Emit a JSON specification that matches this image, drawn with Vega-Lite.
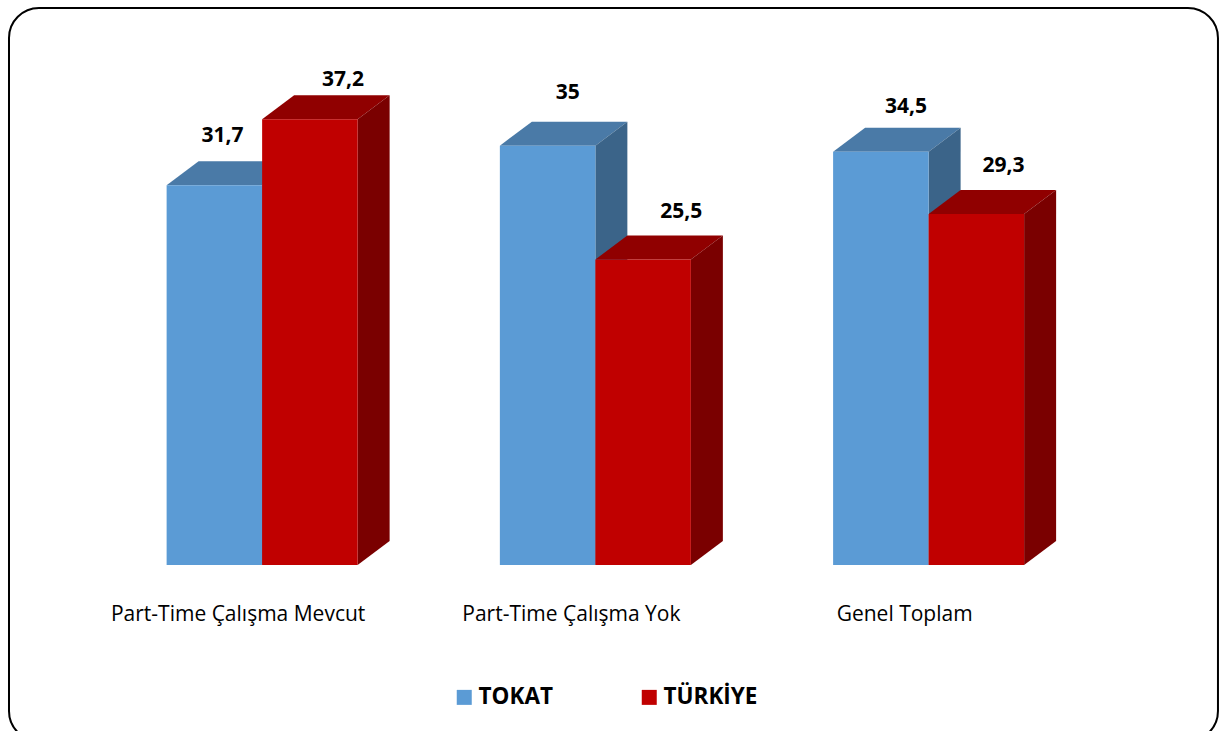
{
"$schema":"https://vega.github.io/schema/vega-lite/v6.json",
"width":1219,"height":731,"padding":0,
"autosize":{"type":"fit","contains":"padding"},
"background":"white",
"config":{"view":{"stroke":null},"font":"Open Sans"},
"data":{"values":[
{"category":"Part-Time Çalışma Mevcut","series":"TOKAT","value":31.7},
{"category":"Part-Time Çalışma Yok","series":"TOKAT","value":35},
{"category":"Genel Toplam","series":"TOKAT","value":34.5},
{"category":"Part-Time Çalışma Mevcut","series":"TÜRKİYE","value":37.2},
{"category":"Part-Time Çalışma Yok","series":"TÜRKİYE","value":25.5},
{"category":"Genel Toplam","series":"TÜRKİYE","value":29.3}
]},
"transform":[
{"calculate":"indexof(['Part-Time Çalışma Mevcut','Part-Time Çalışma Yok','Genel Toplam'],datum.category)","as":"i"},
{"calculate":"datum.series==='TOKAT'?0:1","as":"s"},
{"calculate":"datum.i+datum.s*0.2866","as":"x0"},
{"calculate":"datum.x0+0.2866","as":"x1"}
],
"resolve":{"scale":{"color":"independent"}},
"layer":[
{"mark":{"type":"rect","filled":false,"stroke":"black","strokeWidth":2,"cornerRadius":30,"clip":true},
 "data":{"values":[{"frame":"border"}]},
 "transform":[{"calculate":"-0.473","as":"a"},{"calculate":"3.1549","as":"b"},{"calculate":"46.49","as":"c"},{"calculate":"-14.7","as":"d"}],
 "encoding":{
  "x":{"field":"a","type":"quantitative","scale":{"domain":[-0.5,3.158],"nice":false,"zero":false},"axis":null},
  "x2":{"field":"b"},
  "y":{"field":"c","type":"quantitative","scale":{"domain":[-13.86,47.16],"nice":false,"zero":false},"axis":null},
  "y2":{"field":"d"}}},
{"mark":{"type":"area","clip":false,"interpolate":"linear"},
 "transform":[
  {"calculate":"[0,1,2,3,4,5]","as":"v"},{"flatten":["v"]},
  {"calculate":"datum.v<4?'top':'side'","as":"face"},
  {"calculate":"datum.x0+0.096","as":"x0d"},
  {"calculate":"datum.x1+0.096","as":"x1d"},
  {"calculate":"[datum.x0,datum.x0d,datum.x1,datum.x1d,datum.x1,datum.x1d][datum.v]","as":"px"},
  {"calculate":"[datum.value,datum.value+2,datum.value+2,datum.value+2,datum.value,datum.value+2][datum.v]","as":"py"},
  {"calculate":"[datum.value,datum.value,datum.value,datum.value+2,0,2][datum.v]","as":"py2"}
 ],
 "encoding":{
  "x":{"field":"px","type":"quantitative","axis":null},
  "y":{"field":"py","type":"quantitative","stack":null,"axis":null},
  "y2":{"field":"py2"},
  "detail":[{"field":"series"},{"field":"category"},{"field":"face"}],
  "color":{"condition":[
    {"test":"datum.series==='TOKAT'&&datum.face==='top'","value":"#4a7aa7"},
    {"test":"datum.series==='TOKAT'","value":"#3b6489"},
    {"test":"datum.face==='top'","value":"#900000"}],
   "value":"#7a0000"}}},
{"mark":{"type":"rect"},
 "encoding":{
  "x":{"field":"x0","type":"quantitative","axis":null},
  "x2":{"field":"x1"},
  "y":{"field":"value","type":"quantitative","axis":null},
  "y2":{"datum":0},
  "color":{"field":"series","type":"nominal",
   "scale":{"domain":["TOKAT","TÜRKİYE"],"range":["#5b9bd5","#c00000"]},
   "legend":{"orient":"none","legendX":453,"legendY":686,"direction":"horizontal","title":null,"padding":0,
    "symbolType":"square","symbolSize":225,"symbolStrokeWidth":0,"labelFont":"Open Sans","labelFontSize":22.5,"labelFontWeight":"bold","labelColor":"black","labelOffset":3,"columnPadding":85,"labelLimit":300}}}},
{"mark":{"type":"text","font":"Open Sans","fontSize":21,"fontWeight":"bold","color":"black","align":"center","baseline":"middle"},
 "transform":[
  {"calculate":"replace(toString(datum.value),'.',',')","as":"label"},
  {"calculate":"datum.x0+0.1433+[[8,33],[20,38],[25,27]][datum.i][datum.s]/333","as":"lx"},
  {"calculate":"datum.value+[[49.5,39.5],[52.5,47.5],[44.5,47.5]][datum.i][datum.s]/11.98","as":"ly"}
 ],
 "encoding":{
  "x":{"field":"lx","type":"quantitative","axis":null},
  "y":{"field":"ly","type":"quantitative","axis":null},
  "text":{"field":"label"}}},
{"mark":{"type":"text","font":"Open Sans","fontSize":21,"color":"black","align":"center","baseline":"middle"},
 "transform":[{"filter":"datum.s===0"},
  {"calculate":"datum.i+0.2866-0.072","as":"lx"},
  {"calculate":"-4.16","as":"ly"}],
 "encoding":{
  "x":{"field":"lx","type":"quantitative","axis":null},
  "y":{"field":"ly","type":"quantitative","axis":null},
  "text":{"field":"category"}}}
]
}
